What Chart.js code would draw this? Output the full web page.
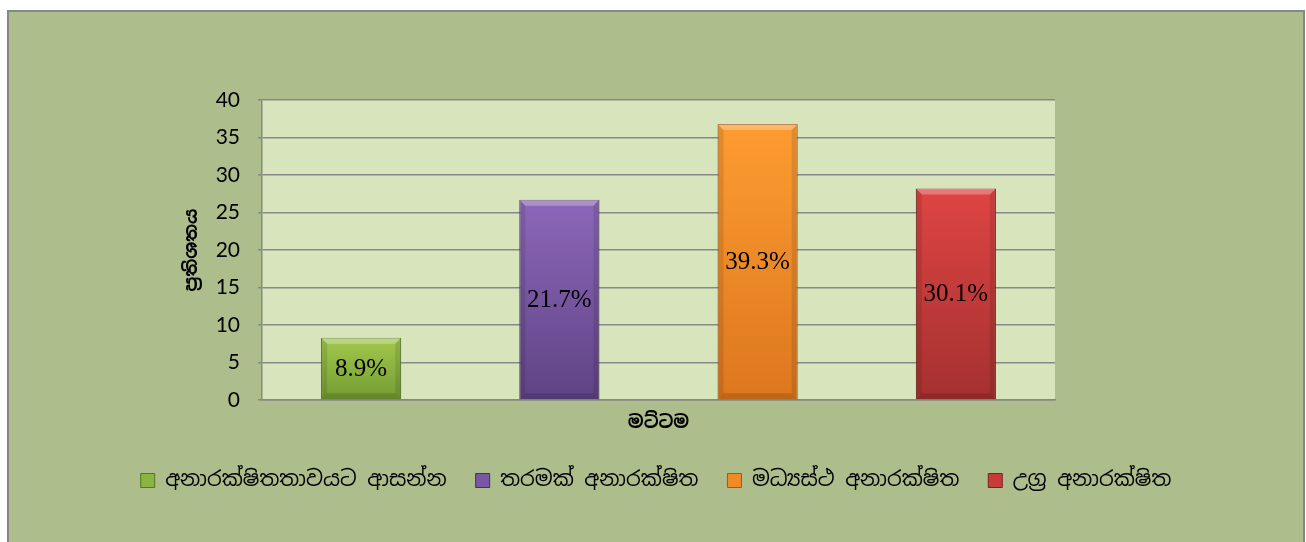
<!DOCTYPE html>
<html>
<head>
<meta charset="utf-8">
<script src="https://cdn.jsdelivr.net/npm/chart.js@4"></script>
<style>
  html, body { margin: 0; padding: 0; background: #ffffff; overflow: hidden; }
  #box {
    position: absolute; left: 7px; top: 10px; width: 1294px; height: 540px;
    border: 2px solid #878787; background: #adbd8c; overflow: hidden;
  }
  #myChart { position: absolute; left: 0; top: 0; }
</style>
</head>
<body>
<div id="box"><canvas id="myChart" width="1294" height="530"></canvas></div>
<script>
const levels = ['අනාරක්ෂිතතාවයට ආසන්න', 'තරමක් අනාරක්ෂිත', 'මධ්‍යස්ථ අනාරක්ෂිත', 'උග්‍ර අනාරක්ෂිත'];
const heights = [8.3, 26.7, 36.8, 28.2];
const percents = [8.9, 21.7, 39.3, 30.1];
const yTicks = [0, 5, 10, 15, 20, 25, 30, 35, 40];
const xTitle = 'මට්ටම';
const yTitle = 'ප්‍රතිශතය';

const fillTop = ['#a2c84f', '#8d67ba', '#fd9c31', '#de4543'];
const fillBottom = ['#739c31', '#5f4384', '#dc771f', '#a53030'];
const fillMid = ['#8ab33f', '#7a57a3', '#f08a27', '#c83b3a'];
const edge = ['#56752a', '#45305f', '#a3581a', '#7a2222'];

const sinhala = "'Noto Sans Sinhala', 'Iskoola Pota', 'Noto Sans', 'DejaVu Sans', sans-serif";

function barFill(c, i) {
  const ys = c.chart.scales.y;
  if (!ys || !c.parsed || c.parsed.y === undefined) return fillMid[i];
  const top = ys.getPixelForValue(c.parsed.y);
  const bottom = ys.getPixelForValue(0);
  if (!isFinite(top) || !isFinite(bottom) || top === bottom) return fillMid[i];
  const g = c.chart.ctx.createLinearGradient(0, top, 0, bottom);
  g.addColorStop(0, fillTop[i]);
  g.addColorStop(1, fillBottom[i]);
  return g;
}

const plotBg = {
  id: 'plotBg',
  beforeDraw(chart) {
    const a = chart.chartArea;
    const ctx = chart.ctx;
    ctx.save();
    ctx.fillStyle = '#d8e4bc';
    ctx.fillRect(a.left, a.top, a.right - a.left, a.bottom - a.top);
    ctx.restore();
  }
};

// bevel edges + percentage text on every bar
const barText = {
  id: 'barText',
  afterDatasetsDraw(chart) {
    const ctx = chart.ctx;
    chart.data.datasets.forEach((ds, i) => {
      const bar = chart.getDatasetMeta(i).data[0];
      if (!bar) return;
      const w = bar.width, l = bar.x - w / 2, r = bar.x + w / 2;
      const t = bar.y, b = bar.base, bv = 6;
      ctx.save();
      ctx.fillStyle = 'rgba(255,255,255,0.28)';
      ctx.beginPath();
      ctx.moveTo(l, t); ctx.lineTo(r, t); ctx.lineTo(r - bv, t + bv); ctx.lineTo(l + bv, t + bv);
      ctx.closePath(); ctx.fill();
      ctx.fillStyle = 'rgba(0,0,0,0.10)';
      ctx.beginPath();
      ctx.moveTo(l, t); ctx.lineTo(l + bv, t + bv); ctx.lineTo(l + bv, b - bv); ctx.lineTo(l, b);
      ctx.closePath(); ctx.fill();
      ctx.beginPath();
      ctx.moveTo(r, t); ctx.lineTo(r - bv, t + bv); ctx.lineTo(r - bv, b - bv); ctx.lineTo(r, b);
      ctx.closePath(); ctx.fill();
      ctx.fillStyle = 'rgba(0,0,0,0.14)';
      ctx.beginPath();
      ctx.moveTo(l, b); ctx.lineTo(l + bv, b - bv); ctx.lineTo(r - bv, b - bv); ctx.lineTo(r, b);
      ctx.closePath(); ctx.fill();
      ctx.fillStyle = '#000000';
      ctx.font = "25px 'Liberation Serif', 'Times New Roman', serif";
      ctx.textAlign = 'center';
      ctx.textBaseline = 'middle';
      ctx.fillText(percents[i].toFixed(1) + '%', bar.x, (t + b) / 2 + 1);
      ctx.restore();
    });
  }
};

const ctx = document.getElementById('myChart').getContext('2d');
const myChart = new Chart(ctx, {
  type: 'bar',
  data: {
    labels: [''],
    datasets: levels.map((name, i) => ({
      label: name,
      data: [heights[i]],
      backgroundColor: (c) => barFill(c, i),
      borderColor: edge[i],
      borderWidth: 1,
      categoryPercentage: 1,
      barPercentage: 0.404
    }))
  },
  options: {
    responsive: false,
    animation: false,
    events: [],
    layout: { padding: { top: 88, left: 100, right: 100, bottom: 41 } },
    scales: {
      x: {
        ticks: { display: false },
        grid: { display: false },
        border: { display: true, color: '#878787', width: 1.5 },
        title: {
          display: true, text: xTitle, color: '#000000',
          font: { family: sinhala, size: 18, weight: 'bold' },
          padding: { top: 4, bottom: 7 }
        },
        afterFit(s) { s.height = 41; }
      },
      y: {
        min: 0, max: 40,
        afterBuildTicks(s) { s.ticks = yTicks.map(v => ({ value: v })); },
        ticks: { color: '#000000', padding: 18, font: { family: 'Lato', size: 21 } },
        grid: { color: '#878787', lineWidth: 1.5, tickLength: 4 },
        border: { display: true, color: '#878787', width: 1.5 },
        title: {
          display: true, text: yTitle, color: '#000000',
          font: { family: sinhala, size: 18, weight: 'bold' },
          padding: { top: 72, bottom: 4 }
        },
        afterFit(s) { s.width = 153; }
      },
      filler: {
        position: 'right',
        display: true,
        ticks: { display: false },
        grid: { display: false },
        border: { display: false },
        afterFit(s) { s.width = 148; }
      }
    },
    plugins: {
      legend: {
        position: 'bottom',
        labels: {
          color: '#000000',
          boxWidth: 14,
          boxHeight: 14,
          padding: 29,
          font: { family: sinhala, size: 21 },
          generateLabels(chart) {
            return levels.map((name, i) => ({
              text: name,
              fillStyle: fillMid[i],
              strokeStyle: edge[i],
              lineWidth: 1,
              datasetIndex: i
            }));
          }
        }
      },
      tooltip: { enabled: false }
    }
  },
  plugins: [plotBg, barText]
});
</script>
</body>
</html>
